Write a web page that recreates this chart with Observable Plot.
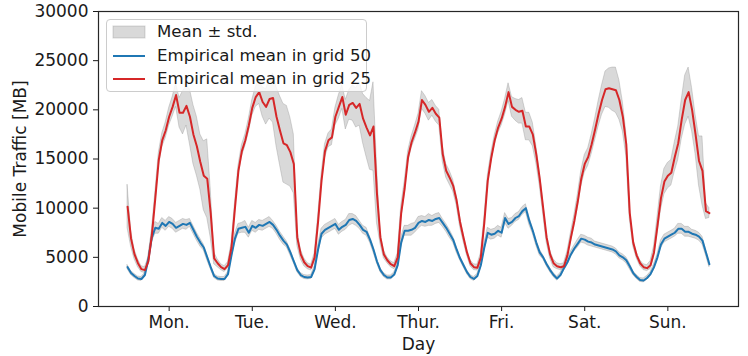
<!DOCTYPE html>
<html><head><meta charset="utf-8">
<script src="https://cdn.jsdelivr.net/npm/d3@7"></script>
<script src="https://cdn.jsdelivr.net/npm/@observablehq/plot@0.6"></script>
<style>
body{margin:0;background:#fff;font-family:"DejaVu Sans",sans-serif;}
#wrap{position:relative;width:748px;height:356px;}
#legend{position:absolute;left:106px;top:19px;width:259px;height:71px;border:1px solid #cccccc;border-radius:4px;background:rgba(255,255,255,0.8);font-size:16.6px;color:#1a1a1a;font-family:"DejaVu Sans",sans-serif;}
.item{position:absolute;left:0;height:20px;width:259px;}
.item svg{position:absolute;left:5px;top:0;}
.item span{position:absolute;left:50px;top:0;line-height:20px;white-space:nowrap;}
</style></head><body>
<div id="wrap"><div id="chart"></div><div id="legend"></div></div>
<script>
const days = ["Mon.", "Tue.", "Wed.", "Thur.", "Fri.", "Sat.", "Sun."];
const dayTicks = [12, 36, 60, 84, 108, 132, 156];
const yTicks = [0, 5000, 10000, 15000, 20000, 25000, 30000];
const seriesNames = ["Mean \u00b1 std.", "Empirical mean in grid 50", "Empirical mean in grid 25"];

// hourly empirical mean, grid 25 (red), hours 0..168
const red25 = [
  10150, 6900, 5300, 4400, 3800, 3700, 4600, 7200, 11000, 14900, 16900, 17900, 19300, 20300, 21500, 19700, 19700, 20400, 19300, 17500, 16300, 14700, 13300, 13000,
  9500, 4900, 4400, 4000, 3800, 4200, 6000, 10000, 13800, 15800, 16900, 18400, 20200, 21300, 21800, 20800, 20300, 21100, 21200, 19300, 17900, 16600, 16400, 15700,
  14500, 7000, 5300, 4500, 4100, 3950, 5000, 8600, 12800, 15800, 16900, 17200, 19300, 20300, 21300, 19500, 20500, 20700, 20200, 20600, 19100, 18200, 17400, 18300,
  11500, 7000, 5300, 4700, 4300, 4100, 5000, 9500, 12000, 15200, 16700, 17700, 18800, 21000, 20500, 19800, 20200, 19600, 19200, 15500, 13800, 13100, 12300, 10800,
  8600, 7000, 5500, 4400, 4000, 3950, 5000, 8500, 12800, 15100, 16900, 18200, 19100, 20300, 21800, 20300, 20000, 19800, 19900, 18300, 18300, 17500, 15500, 13000,
  10000, 7000, 5300, 4400, 4100, 4000, 4100, 5200, 7000, 8700, 10700, 13000, 14500, 15200, 16500, 18000, 19600, 21000, 22100, 22200, 22100, 22000, 21000, 19300,
  16500, 9500, 6500, 5200, 4400, 4000, 3900, 4200, 5500, 8200, 11000, 12700, 13300, 13600, 15200, 16600, 19000, 21000, 21800, 20000, 17500, 14800, 13800, 9700, 9500
];
// hourly std, grid 25
const std25 = [
  2200, 800, 500, 400, 300, 300, 300, 500, 600, 700, 700, 800, 900, 1000, 1200, 1500, 2200, 2000, 2800, 3000, 3000, 2800, 3500, 4000,
  2500, 600, 400, 300, 300, 300, 400, 500, 500, 600, 600, 700, 800, 1000, 1200, 1500, 1800, 2000, 2500, 3000, 3500, 4000, 4000, 3500,
  3000, 800, 500, 400, 300, 300, 400, 500, 600, 700, 700, 800, 900, 1200, 1200, 1500, 1500, 1800, 2000, 2200, 2500, 3000, 3500, 4500,
  3000, 600, 400, 300, 300, 300, 400, 700, 700, 600, 600, 700, 800, 900, 900, 900, 800, 800, 800, 800, 700, 700, 600, 500,
  500, 400, 300, 300, 300, 300, 400, 500, 500, 500, 500, 600, 700, 800, 900, 1000, 1100, 1200, 1300, 1400, 1400, 1200, 900, 700,
  600, 500, 400, 400, 300, 300, 300, 400, 500, 600, 700, 800, 900, 900, 1000, 1100, 1300, 1500, 1800, 2000, 2200, 2300, 2000, 1500,
  1200, 600, 400, 300, 300, 300, 300, 400, 600, 900, 1200, 1300, 1300, 1300, 1500, 1700, 2000, 2500, 2500, 2200, 2000, 2500, 3500, 800, 500
];
// hourly empirical mean, grid 50 (blue)
const blue50 = [
  4000, 3400, 3100, 2850, 2800, 3200, 4800, 7000, 8000, 7900, 8500, 8200, 8600, 8400, 8000, 8200, 8400, 8300, 8500, 7800, 7100, 6500, 6000, 5000,
  4000, 3100, 2850, 2800, 2800, 3300, 5200, 6900, 7900, 8000, 8100, 7500, 8200, 8000, 8300, 8200, 8400, 8600, 8300, 7800, 7200, 6700, 6300, 5500,
  4600, 3700, 3200, 3000, 2950, 3000, 3800, 5800, 7400, 7800, 8000, 8200, 8400, 7800, 8100, 8300, 8800, 8900, 8700, 8300, 7800, 7600, 6800, 5800,
  4600, 3700, 3200, 2950, 2950, 3250, 4200, 6500, 7700, 7700, 7800, 8000, 8500, 8700, 8600, 8800, 8700, 8900, 9000, 8500, 8000, 7400, 6800, 5800,
  4900, 4200, 3500, 3000, 2800, 3100, 4200, 6000, 7500, 7300, 7400, 7700, 7500, 9000, 8400, 8600, 9000, 9200, 9700, 10000, 8700, 7700, 6500, 5500,
  5000, 4300, 3700, 3200, 2850, 3200, 3900, 4500, 5300, 5900, 6400, 6900, 6800, 6600, 6500, 6300, 6200, 6100, 6000, 5900, 5800, 5600, 5200, 5000,
  4700, 4100, 3400, 3000, 2700, 2650, 2900, 3300, 4000, 5000, 6300, 6900, 7100, 7300, 7500, 7900, 7900, 7600, 7600, 7400, 7300, 7100, 6700, 5500, 4300
];
// hourly std, grid 50
const std50 = [
  200, 200, 200, 200, 200, 200, 300, 500, 600, 500, 500, 500, 500, 500, 500, 500, 500, 500, 400, 400, 400, 400, 300, 300,
  200, 200, 200, 200, 200, 200, 300, 500, 500, 500, 600, 500, 500, 500, 500, 500, 500, 500, 400, 400, 400, 400, 300, 300,
  200, 200, 200, 200, 200, 200, 300, 400, 500, 500, 500, 500, 500, 500, 500, 500, 600, 500, 500, 400, 400, 400, 300, 300,
  200, 200, 200, 200, 200, 200, 300, 500, 500, 500, 600, 500, 600, 500, 500, 600, 500, 500, 500, 400, 400, 400, 300, 300,
  200, 200, 200, 200, 200, 200, 300, 400, 500, 500, 500, 500, 500, 500, 500, 400, 400, 400, 400, 400, 400, 300, 300, 300,
  200, 200, 200, 200, 200, 200, 300, 300, 300, 300, 400, 400, 400, 400, 400, 300, 300, 300, 300, 300, 300, 300, 300, 300,
  300, 300, 200, 200, 200, 200, 200, 200, 300, 300, 400, 400, 400, 400, 400, 500, 500, 500, 500, 400, 400, 400, 400, 300, 300
];

const blueColor = "#1f77b4";
const redColor = "#d62728";
const fs = 17;

const rows = blue50.map((b, i) => ({h: i, b, bs: std50[i], r: red25[i], rs: std25[i]}));

const chart = Plot.plot({
  width: 748, height: 356,
  marginLeft: 98, marginRight: 10, marginTop: 11, marginBottom: 50,
  style: {fontFamily: "DejaVu Sans", fontSize: fs + "px", color: "#1a1a1a", background: "white", overflow: "visible"},
  x: {domain: [-8.4, 176.4]},
  y: {domain: [0, 30000]},
  marks: [
    Plot.areaY(rows, {x: "h", y1: d => d.b - d.bs, y2: d => d.b + d.bs, fill: "gray", fillOpacity: 0.3, stroke: "gray", strokeOpacity: 0.3}),
    Plot.areaY(rows, {x: "h", y1: d => d.r - d.rs, y2: d => d.r + d.rs, fill: "gray", fillOpacity: 0.3, stroke: "gray", strokeOpacity: 0.3}),
    Plot.lineY(rows, {x: "h", y: "b", stroke: blueColor, strokeWidth: 2}),
    Plot.lineY(rows, {x: "h", y: "r", stroke: redColor, strokeWidth: 2}),
    Plot.axisX({ticks: dayTicks, tickFormat: d => days[dayTicks.indexOf(d)], tickSize: 5, tickPadding: 4, label: null, fontSize: fs, fontFamily: "DejaVu Sans"}),
    Plot.axisY({ticks: yTicks, tickFormat: d3.format("d"), tickSize: 5, tickPadding: 5, label: null, fontSize: fs, fontFamily: "DejaVu Sans"}),
    Plot.frame({stroke: "#262626", strokeWidth: 1.2}),
    Plot.text(["Day"], {frameAnchor: "bottom", dy: 43, text: d => d, fontSize: fs, fontFamily: "DejaVu Sans"}),
    Plot.text(["Mobile Traffic [MB]"], {frameAnchor: "left", dx: -78, rotate: -90, textAnchor: "middle", text: d => d, fontSize: fs, fontFamily: "DejaVu Sans"})
  ]
});
document.getElementById("chart").appendChild(chart);

// legend
const legend = document.getElementById("legend");
const tops = [2, 26, 49];
seriesNames.forEach((name, i) => {
  const it = document.createElement("div");
  it.className = "item";
  it.style.top = tops[i] + "px";
  let sw;
  if (i === 0) {
    sw = `<svg width="34" height="20"><rect x="1" y="4" width="32" height="12" fill="gray" fill-opacity="0.3" stroke="gray" stroke-opacity="0.3"/></svg>`;
  } else {
    const c = i === 1 ? blueColor : redColor;
    sw = `<svg width="34" height="20"><line x1="1" x2="33" y1="10" y2="10" stroke="${c}" stroke-width="2"/></svg>`;
  }
  it.innerHTML = sw + `<span>${name}</span>`;
  legend.appendChild(it);
});
</script>
</body></html>
